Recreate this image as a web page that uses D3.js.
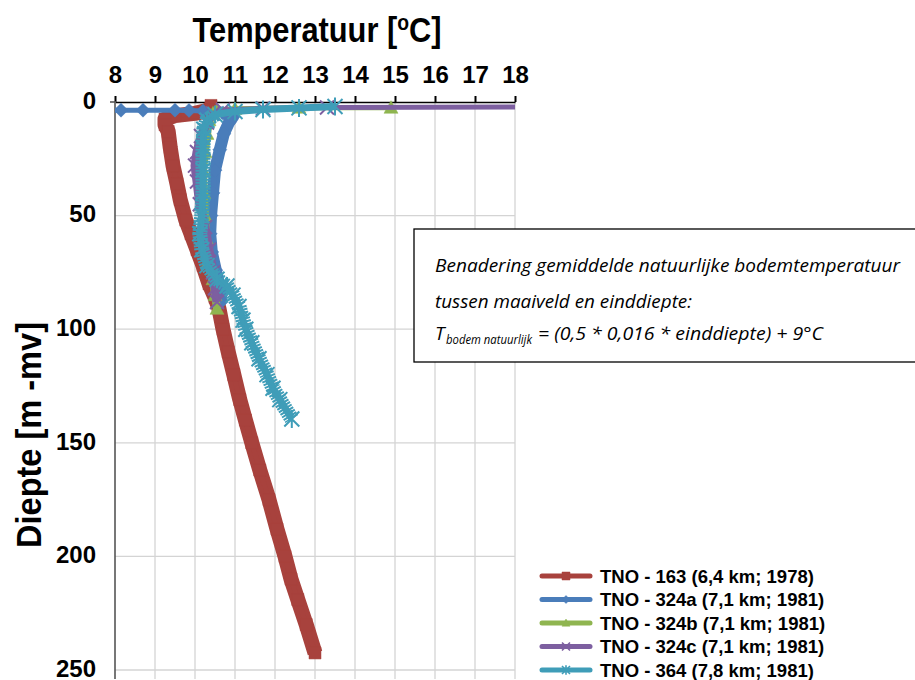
<!DOCTYPE html>
<html>
<head>
<meta charset="utf-8">
<script src="https://cdn.jsdelivr.net/npm/d3@7"></script>
<style>
	body { margin: 0; background: #fff; }
	svg { display: block; }
</style>
</head>
<body>
<svg width="915" height="680"></svg>
<script>
const tempTicks = [8, 9, 10, 11, 12, 13, 14, 15, 16, 17, 18];
const depthTicks = [0, 50, 100, 150, 200, 250];

const names = [
	'TNO - 163 (6,4 km; 1978)',
	'TNO - 324a (7,1 km; 1981)',
	'TNO - 324b (7,1 km; 1981)',
	'TNO - 324c (7,1 km; 1981)',
	'TNO - 364 (7,8 km; 1981)'
];

// diepte [m -mv] en temperatuur [°C] per boring
const depth163 = [1.5, 3.5, 5, 6, 7.5, 10, 13, 20, 28, 36, 43, 52, 58, 65, 72, 80, 86, 91, 100, 110, 120, 131, 140, 150, 162, 175, 188, 200, 210, 219, 230, 242.5];
const temp163 = [10.4, 10.35, 10.0, 9.5, 9.25, 9.25, 9.33, 9.38, 9.45, 9.55, 9.63, 9.77, 9.9, 10.05, 10.2, 10.35, 10.5, 10.6, 10.7, 10.83, 10.97, 11.12, 11.26, 11.42, 11.62, 11.85, 12.05, 12.25, 12.4, 12.57, 12.78, 13.0];

const depth324a = [3.6, 3.6, 3.6, 3.6, 3.7, 4.0, 4.8, 6.5, 9, 14, 21, 30, 40, 50, 58, 66, 74, 80, 85, 88];
const temp324a = [7.8, 8.15, 8.7, 9.5, 9.85, 10.2, 10.7, 10.95, 10.85, 10.72, 10.62, 10.5, 10.45, 10.4, 10.38, 10.42, 10.52, 10.6, 10.65, 10.65];

const depth324b = [2.5, 2.5, 3.0, 3.6, 5, 8, 14, 22, 30, 40, 50, 60, 70, 78, 85, 91];
const temp324b = [14.9, 12.6, 11.0, 10.55, 10.45, 10.35, 10.3, 10.25, 10.2, 10.22, 10.25, 10.28, 10.35, 10.45, 10.5, 10.55];

const depth324c = [2.2, 2.4, 2.8, 3.5, 5, 9, 15, 22, 28, 35, 45, 55, 65, 75, 82, 88];
const temp324c = [19.5, 13.3, 11.7, 10.7, 10.45, 10.3, 10.15, 10.05, 10.0, 10.05, 10.12, 10.25, 10.35, 10.45, 10.5, 10.55];

const depth364 = [2.0, 2.6, 3.3, 4.2, 5.5, 8, 12, 20, 30, 40, 50, 58, 65, 72, 78, 81, 85, 90, 96, 100, 106, 113, 120, 126, 131, 139.5];
const temp364 = [13.5, 12.6, 11.7, 11.0, 10.5, 10.3, 10.22, 10.2, 10.2, 10.2, 10.17, 10.12, 10.17, 10.3, 10.55, 10.8, 10.95, 11.1, 11.2, 11.27, 11.42, 11.6, 11.8, 11.95, 12.12, 12.42];

const series = [
	{ name: names[0], depth: depth163, temp: temp163, color: '#A8423D', marker: 'square', size: 6, band: 15, bandFrom: 0 },
	{ name: names[1], depth: depth324a, temp: temp324a, color: '#4A7DBA', marker: 'diamond', size: 7, band: 12, bandFrom: 4.5 },
	{ name: names[2], depth: depth324b, temp: temp324b, color: '#8FB550', marker: 'triangle', size: 7, band: 8, bandFrom: 4 },
	{ name: names[3], depth: depth324c, temp: temp324c, color: '#7D5FA0', marker: 'x', size: 7, band: 9, bandFrom: 4 },
	{ name: names[4], depth: depth364, temp: temp364, color: '#3F9DB8', marker: 'asterisk', size: 7.5, band: 15, bandFrom: 5 }
];

const svg = d3.select('svg');
const x = d3.scaleLinear().domain([8, 18]).range([115, 515]);
const y = d3.scaleLinear().domain([0, 250]).range([102, 670]);
const yEnd = 254; // grafiek loopt door onder de uitsnede

// Gridlines
svg.append('g')
	.selectAll('line')
	.data(tempTicks.slice(1))
	.enter()
	.append('line')
	.attr('x1', d => x(d)).attr('x2', d => x(d))
	.attr('y1', y(0)).attr('y2', y(yEnd))
	.attr('stroke', '#d4d4d4').attr('stroke-width', 1.3);
svg.append('g')
	.selectAll('line')
	.data(depthTicks.slice(1))
	.enter()
	.append('line')
	.attr('x1', x(8)).attr('x2', x(18))
	.attr('y1', d => y(d)).attr('y2', d => y(d))
	.attr('stroke', '#d4d4d4').attr('stroke-width', 1.3);

// Axes
const topAxis = d3.axisTop(x).tickValues(tempTicks).tickSize(6).tickSizeOuter(0).tickPadding(13);
svg.append('g')
	.attr('transform', `translate(0, ${y(0)})`)
	.call(topAxis)
	.call(g => g.selectAll('.tick line').attr('stroke', '#000').attr('stroke-width', 2))
	.call(g => g.select('.domain').attr('stroke', '#000').attr('stroke-width', 1.6))
	.call(g => g.selectAll('text')
		.attr('font-family', 'Liberation Sans, Arial, sans-serif')
		.attr('font-weight', 'bold')
		.attr('font-size', 24)
		.attr('fill', '#000'));

const leftAxis = d3.axisLeft(y).tickValues(depthTicks).tickSize(0).tickPadding(19);
svg.append('g')
	.attr('transform', `translate(${x(8)}, 0)`)
	.call(leftAxis)
	.call(g => g.select('.domain').remove())
	.call(g => g.selectAll('text')
		.attr('dy', '0.26em')
		.attr('font-family', 'Liberation Sans, Arial, sans-serif')
		.attr('font-weight', 'bold')
		.attr('font-size', 24)
		.attr('fill', '#000'));
svg.append('line')
	.attr('x1', x(8)).attr('x2', x(8))
	.attr('y1', y(0) - 1).attr('y2', y(yEnd))
	.attr('stroke', '#555').attr('stroke-width', 1.6);
svg.append('line')
	.attr('x1', x(8) - 5).attr('x2', x(8))
	.attr('y1', y(0)).attr('y2', y(0))
	.attr('stroke', '#555').attr('stroke-width', 1.6);

// Titles
const title = svg.append('text')
	.attr('transform', 'translate(317, 42) scale(0.88, 1)')
	.attr('text-anchor', 'middle')
	.attr('font-family', 'Liberation Sans, Arial, sans-serif')
	.attr('font-weight', 'bold')
	.attr('font-size', 35)
	.attr('fill', '#000');
title.append('tspan').text('Temperatuur [');
title.append('tspan').attr('font-size', 22).attr('dy', -12).text('o');
title.append('tspan').attr('dy', 12).text('C]');

svg.append('text')
	.attr('transform', 'translate(41, 435) rotate(-90) scale(0.93, 1)')
	.attr('text-anchor', 'middle')
	.attr('font-family', 'Liberation Sans, Arial, sans-serif')
	.attr('font-weight', 'bold')
	.attr('font-size', 35)
	.attr('fill', '#000')
	.text('Diepte [m -mv]');

// Series
svg.append('clipPath')
	.attr('id', 'plot-clip')
	.append('rect')
	.attr('x', x(8)).attr('y', 0)
	.attr('width', x(18) - x(8)).attr('height', 680);

function markerPath(type, s) {
	if (type === 'square') return `M${-s},${-s}h${2 * s}v${2 * s}h${-2 * s}Z`;
	if (type === 'diamond') return `M0,${-s}L${s},0L0,${s}L${-s},0Z`;
	if (type === 'triangle') return `M0,${-s}L${s},${s * 0.8}L${-s},${s * 0.8}Z`;
	if (type === 'x') return `M${-s},${-s}L${s},${s}M${s},${-s}L${-s},${s}`;
	return `M${-s},${-s}L${s},${s}M${s},${-s}L${-s},${s}M0,${-s * 1.2}L0,${s * 1.2}`;
}
const filled = t => t === 'square' || t === 'diamond' || t === 'triangle';

const line = d3.line()
	.x(d => x(d.t))
	.y(d => y(d.d));

const plot = svg.append('g').attr('clip-path', 'url(#plot-clip)');

series.forEach(s => {
	const pts = s.depth.map((d, i) => ({ d: d, t: s.temp[i] }));
	const g = plot.append('g');
	const bandPts = pts.filter(p => p.d >= s.bandFrom);

	g.append('path')
		.datum(bandPts)
		.attr('d', line)
		.attr('fill', 'none')
		.attr('stroke', s.color)
		.attr('stroke-width', s.band)
		.attr('stroke-linejoin', 'round')
		.attr('stroke-dasharray', s.marker === 'asterisk' ? '2 1' : null);

	g.append('path')
		.datum(pts)
		.attr('d', line)
		.attr('fill', 'none')
		.attr('stroke', s.color)
		.attr('stroke-width', s.marker === 'asterisk' ? 7 : 5)
		.attr('stroke-linejoin', 'round');

	g.selectAll('.mk')
		.data(pts)
		.enter()
		.append('path')
		.attr('class', 'mk')
		.attr('transform', d => `translate(${x(d.t)}, ${y(d.d)})`)
		.attr('d', markerPath(s.marker, s.size))
		.attr('fill', filled(s.marker) ? s.color : 'none')
		.attr('stroke', s.color)
		.attr('stroke-width', filled(s.marker) ? 0.5 : 2);
});

// Annotation box
svg.append('rect')
	.attr('x', 414).attr('y', 229)
	.attr('width', 520).attr('height', 133)
	.attr('fill', '#fff')
	.attr('stroke', '#000')
	.attr('stroke-width', 1.3);

const boxFont = 'Open Sans, DejaVu Sans, sans-serif';
const boxLines = [
	{ text: 'Benadering gemiddelde natuurlijke bodemtemperatuur', y: 272, len: 465 },
	{ text: 'tussen maaiveld en einddiepte:', y: 308, len: 257 }
];
svg.append('g')
	.selectAll('text')
	.data(boxLines)
	.enter()
	.append('text')
	.attr('x', 435)
	.attr('y', d => d.y)
	.attr('textLength', d => d.len)
	.attr('lengthAdjust', 'spacingAndGlyphs')
	.attr('font-family', boxFont)
	.attr('font-style', 'italic')
	.attr('font-size', 19)
	.attr('fill', '#000')
	.text(d => d.text);

const formula = svg.append('g')
	.attr('font-family', boxFont)
	.attr('font-style', 'italic')
	.attr('fill', '#000');
formula.append('text').attr('x', 435).attr('y', 340).attr('font-size', 19).text('T');
formula.append('text').attr('x', 446).attr('y', 343.5).attr('font-size', 12.5)
	.attr('textLength', 86).attr('lengthAdjust', 'spacingAndGlyphs').text('bodem natuurlijk');
formula.append('text').attr('x', 538).attr('y', 340).attr('font-size', 19)
	.attr('textLength', 285).attr('lengthAdjust', 'spacingAndGlyphs')
	.text('= (0,5 * 0,016 * einddiepte) + 9°C');

// Legend
const legend = svg.append('g')
	.selectAll('g')
	.data(series)
	.enter()
	.append('g')
	.attr('transform', (d, i) => `translate(542, ${576 + i * 23.5})`);
legend.append('line')
	.attr('x1', 0).attr('x2', 48)
	.attr('stroke', d => d.color)
	.attr('stroke-width', 5)
	.attr('stroke-linecap', 'round');
legend.append('path')
	.attr('transform', 'translate(24, 0)')
	.attr('d', d => markerPath(d.marker, 4))
	.attr('fill', d => filled(d.marker) ? d.color : 'none')
	.attr('stroke', d => d.color)
	.attr('stroke-width', d => filled(d.marker) ? 0.5 : 1.6);
legend.append('text')
	.attr('x', 58)
	.attr('y', 6.5)
	.attr('font-family', 'Liberation Sans, Arial, sans-serif')
	.attr('font-weight', 'bold')
	.attr('font-size', 18.5)
	.attr('fill', '#000')
	.text(d => d.name);
</script>
</body>
</html>
